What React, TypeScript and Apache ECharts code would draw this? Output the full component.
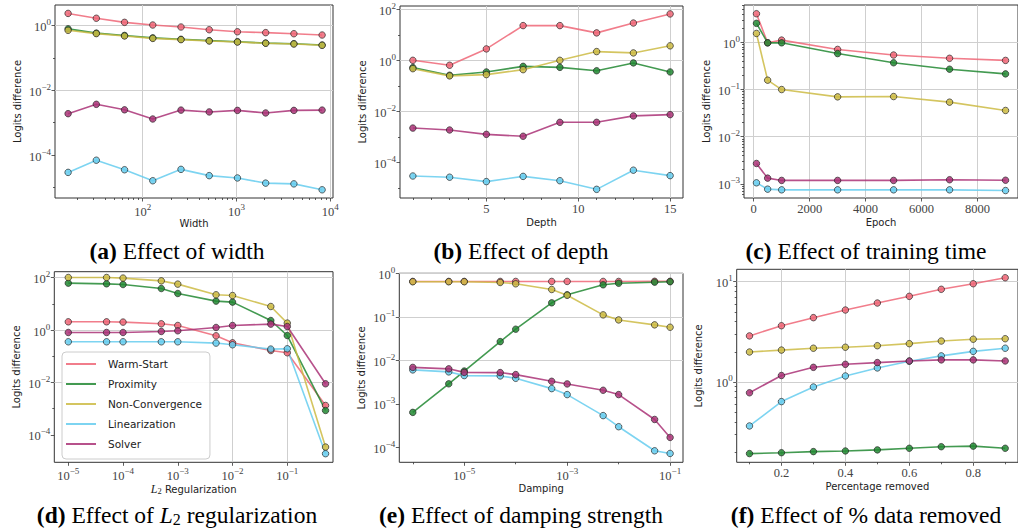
import React, { useEffect, useRef } from 'react';
import * as echarts from 'echarts';

const NAMES = ['Warm-Start', 'Proximity', 'Non-Convergence', 'Linearization', 'Solver'];
const COLORS = ['#EE6677', '#228833', '#CCBB44', '#66CCEE', '#AA3377'];

// (a) Effect of width
const widthX = [16, 32, 64, 128, 256, 512, 1024, 2048, 4096, 8192];
const widthWarm = [2.4, 1.7, 1.27, 1.05, 0.91, 0.75, 0.65, 0.61, 0.565, 0.515];
const widthProx = [0.8, 0.59, 0.5, 0.42, 0.38, 0.345, 0.32, 0.29, 0.277, 0.252];
const widthNonConv = [0.72, 0.57, 0.48, 0.405, 0.37, 0.337, 0.312, 0.287, 0.272, 0.248];
const widthLin = [2.9e-5, 6.9e-5, 3.5e-5, 1.6e-5, 3.6e-5, 2.3e-5, 1.95e-5, 1.35e-5, 1.28e-5, 8.4e-6];
const widthSolver = [1.9e-3, 3.7e-3, 2.5e-3, 1.3e-3, 2.45e-3, 2.15e-3, 2.4e-3, 2.0e-3, 2.4e-3, 2.45e-3];

// (b) Effect of depth
const depthX = [1, 3, 5, 7, 9, 11, 13, 15];
const depthWarm = [1.0, 0.64, 2.8, 23, 23, 11.9, 29, 66];
const depthProx = [0.52, 0.26, 0.35, 0.58, 0.53, 0.39, 0.79, 0.35];
const depthNonConv = [0.47, 0.245, 0.275, 0.43, 1.0, 2.2, 1.95, 3.7];
const depthLin = [2.9e-5, 2.6e-5, 1.75e-5, 2.8e-5, 1.9e-5, 8.7e-6, 4.9e-5, 3.0e-5];
const depthSolver = [2.2e-3, 1.85e-3, 1.25e-3, 1.05e-3, 3.7e-3, 3.7e-3, 6.6e-3, 7.4e-3];

// (c) Effect of training time
const epochX = [100, 500, 1000, 3000, 5000, 7000, 9000];
const epochWarm = [4.06, 0.98, 1.12, 0.71, 0.54, 0.46, 0.415];
const epochProx = [2.54, 0.98, 0.98, 0.58, 0.37, 0.27, 0.215];
const epochNonConv = [1.55, 0.158, 0.1, 0.07, 0.071, 0.054, 0.036];
const epochLin = [1.05e-3, 0.77e-3, 0.745e-3, 0.745e-3, 0.745e-3, 0.745e-3, 0.72e-3];
const epochSolver = [2.7e-3, 1.32e-3, 1.18e-3, 1.18e-3, 1.18e-3, 1.22e-3, 1.19e-3];

// (d) Effect of L2 regularization
const l2X = [1e-5, 5e-5, 1e-4, 5e-4, 1e-3, 5e-3, 1e-2, 5e-2, 1e-1, 5e-1];
const l2Warm = [2.07, 2.07, 2.02, 1.74, 1.5, 0.605, 0.327, 0.166, 0.136, 1.32e-3];
const l2Prox = [62, 58.5, 55, 38.7, 25, 12.8, 11.7, 2.32, 0.62, 8.5e-4];
const l2NonConv = [102, 102, 97, 76, 57, 22.3, 20.9, 7.96, 1.85, 3.4e-5];
const l2Lin = [0.357, 0.357, 0.357, 0.357, 0.357, 0.319, 0.275, 0.188, 0.193, 1.9e-5];
const l2Solver = [0.81, 0.81, 0.81, 0.885, 0.94, 1.26, 1.5, 1.69, 1.37, 8.9e-3];

// (e) Effect of damping strength
const dampX = [1e-6, 5e-6, 1e-5, 5e-5, 1e-4, 5e-4, 1e-3, 5e-3, 1e-2, 5e-2, 1e-1];
const dampWarm = [0.65, 0.65, 0.65, 0.65, 0.65, 0.65, 0.65, 0.65, 0.65, 0.655, 0.655];
const dampProx = [6.4e-4, 2.9e-3, 5.7e-3, 0.027, 0.052, 0.21, 0.32, 0.544, 0.59, 0.624, 0.64];
const dampNonConv = [0.64, 0.64, 0.64, 0.615, 0.574, 0.425, 0.314, 0.111, 0.085, 0.0655, 0.0577];
const dampLin = [6.05e-3, 5.45e-3, 4.48e-3, 4.4e-3, 3.88e-3, 2.25e-3, 1.64e-3, 5.4e-4, 3.0e-4, 8.4e-5, 7.3e-5];
const dampSolver = [6.9e-3, 6.4e-3, 5.3e-3, 5.25e-3, 4.72e-3, 3.31e-3, 2.88e-3, 2.06e-3, 1.64e-3, 4.4e-4, 1.7e-4];

// (f) Effect of % data removed
const removedX = [0.1, 0.2, 0.3, 0.4, 0.5, 0.6, 0.7, 0.8, 0.9];
const removedWarm = [2.88, 3.64, 4.38, 5.22, 6.13, 7.15, 8.4, 9.55, 10.96];
const removedProx = [0.193, 0.197, 0.202, 0.205, 0.21, 0.218, 0.226, 0.229, 0.218];
const removedNonConv = [1.99, 2.08, 2.17, 2.22, 2.3, 2.41, 2.56, 2.67, 2.7];
const removedLin = [0.364, 0.637, 0.891, 1.148, 1.38, 1.61, 1.82, 2.02, 2.17];
const removedSolver = [0.78, 1.16, 1.4, 1.5, 1.56, 1.62, 1.66, 1.66, 1.62];

// tick labels
const widthXTicks = [1e2, 1e3, 1e4];
const widthYTicks = [1, 1e-2, 1e-4];
const depthXTicks = [5, 10, 15];
const depthYTicks = [1e2, 1, 1e-2, 1e-4];
const epochXTicks = [0, 2000, 4000, 6000, 8000];
const epochYTicks = [1, 1e-1, 1e-2, 1e-3];
const l2XTicks = [1e-5, 1e-4, 1e-3, 1e-2, 1e-1];
const l2YTicks = [1e2, 1, 1e-2, 1e-4];
const dampXTicks = [1e-5, 1e-3, 1e-1];
const dampYTicks = [1, 1e-1, 1e-2, 1e-3, 1e-4];
const removedXTicks = [0.2, 0.4, 0.6, 0.8];
const removedYTicks = [10, 1];

const FONT_SERIF = '"Liberation Serif", "DejaVu Serif", serif';
const FONT_SANS = '"DejaVu Sans", "Noto Sans", sans-serif';
const TICK_COLOR = '#444';
const SPINE = '#333';

function logMinors(lo: number, hi: number): number[] {
  const out: number[] = [];
  for (let e = -8; e <= 5; e++) {
    for (let m = 2; m <= 9; m++) {
      const v = m * Math.pow(10, e);
      if (v > lo && v < hi) out.push(v);
    }
  }
  return out;
}

function powLabel(v: number): string {
  const e = Math.round(Math.log10(v));
  const s = e < 0 ? '\u2212' + -e : String(e);
  return '{b|10}{e|' + s + '}';
}

const richPow = {
  b: { fontFamily: FONT_SERIF, fontSize: 12.5, color: TICK_COLOR, verticalAlign: 'bottom', lineHeight: 16 },
  e: { fontFamily: FONT_SERIF, fontSize: 9, color: TICK_COLOR, verticalAlign: 'top', lineHeight: 10 },
};

type Panel = {
  grid: { left: number; top: number; width: number; height: number };
  xType: 'log' | 'value';
  xMin: number; xMax: number; yMin: number; yMax: number;
  x: number[]; ys: number[][];
  xTicks: number[]; xGrid: number[]; xMinor: number[];
  yTicks: number[]; yGrid: number[]; yMinor: number[];
  xFmt?: (v: number) => string;
  xName: string;
  xNameRich?: boolean;
  caption: string; cx: number; cy: number;
};

const panels: Panel[] = [
  {
    grid: { left: 55, top: 5, width: 278, height: 193 },
    xType: 'log', xMin: 11.6, xMax: 10700, yMin: 4.68e-6, yMax: 4.37,
    x: widthX, ys: [widthWarm, widthProx, widthNonConv, widthLin, widthSolver],
    xTicks: widthXTicks, xGrid: widthXTicks, xMinor: logMinors(11.6, 10700),
    yTicks: widthYTicks, yGrid: widthYTicks, yMinor: [1e-1, 1e-3, 1e-5],
    xName: 'Width', caption: '{b|(a)} Effect of width', cx: 177, cy: 251,
  },
  {
    grid: { left: 400, top: 6, width: 283, height: 192 },
    xType: 'value', xMin: 0.3, xMax: 15.7, yMin: 3.98e-6, yMax: 135,
    x: depthX, ys: [depthWarm, depthProx, depthNonConv, depthLin, depthSolver],
    xTicks: depthXTicks, xGrid: depthXTicks, xMinor: [1, 2, 3, 4, 6, 7, 8, 9, 11, 12, 13, 14],
    yTicks: depthYTicks, yGrid: depthYTicks, yMinor: [10, 1e-1, 1e-3, 1e-5],
    xFmt: (v) => String(v),
    xName: 'Depth', caption: '{b|(b)} Effect of depth', cx: 521, cy: 251,
  },
  {
    grid: { left: 744, top: 5, width: 283.5, height: 193 },
    xType: 'value', xMin: -345, xMax: 9445, yMin: 5.0e-4, yMax: 6.22,
    x: epochX, ys: [epochWarm, epochProx, epochNonConv, epochLin, epochSolver],
    xTicks: epochXTicks, xGrid: epochXTicks, xMinor: [],
    yTicks: epochYTicks, yGrid: epochYTicks, yMinor: logMinors(5.0e-4, 6.22),
    xFmt: (v) => String(v),
    xName: 'Epoch', caption: '{b|(c)} Effect of training time', cx: 866, cy: 251,
  },
  {
    grid: { left: 54.3, top: 271.7, width: 278.7, height: 190.6 },
    xType: 'log', xMin: 5.55e-6, xMax: 0.684, yMin: 8.9e-6, yMax: 170,
    x: l2X, ys: [l2Warm, l2Prox, l2NonConv, l2Lin, l2Solver],
    xTicks: l2XTicks, xGrid: l2XTicks, xMinor: [],
    yTicks: l2YTicks, yGrid: l2YTicks, yMinor: [10, 1e-1, 1e-3],
    xName: '{i|L}{s|2} Regularization', xNameRich: true,
    caption: '{b|(d)} Effect of {i|L}{s|2} regularization', cx: 177, cy: 515,
  },
  {
    grid: { left: 399.3, top: 273.3, width: 283.7, height: 189 },
    xType: 'log', xMin: 5.47e-7, xMax: 0.178, yMin: 4.57e-5, yMax: 1.0,
    x: dampX, ys: [dampWarm, dampProx, dampNonConv, dampLin, dampSolver],
    xTicks: dampXTicks, xGrid: dampXTicks, xMinor: [1e-6, 1e-4, 1e-2],
    yTicks: dampYTicks, yGrid: dampYTicks, yMinor: [],
    xName: 'Damping', caption: '{b|(e)} Effect of damping strength', cx: 521, cy: 515,
  },
  {
    grid: { left: 736.7, top: 269.3, width: 291, height: 193 },
    xType: 'value', xMin: 0.06, xMax: 0.94, yMin: 0.158, yMax: 13.3,
    x: removedX, ys: [removedWarm, removedProx, removedNonConv, removedLin, removedSolver],
    xTicks: removedXTicks, xGrid: removedXTicks, xMinor: [0.1, 0.3, 0.5, 0.7, 0.9],
    yTicks: removedYTicks, yGrid: removedYTicks, yMinor: logMinors(0.158, 13.3),
    xFmt: (v) => v.toFixed(1),
    xName: 'Percentage removed', caption: '{b|(f)} Effect of % data removed', cx: 866, cy: 515,
  },
];

function buildOption() {
  const grid: any[] = [];
  const xAxis: any[] = [];
  const yAxis: any[] = [];
  const series: any[] = [];
  const tickLine = { color: SPINE, width: 0.8 };
  const nameStyle = { fontFamily: FONT_SANS, fontSize: 10, color: '#222' };
  const hiddenLine = { show: false, onZero: false };

  panels.forEach((p, i) => {
    grid.push({
      ...p.grid, show: true, borderColor: SPINE, borderWidth: 1,
      backgroundColor: 'transparent', containLabel: false,
    });
    xAxis.push({
      type: p.xType, gridIndex: i, position: 'bottom', min: p.xMin, max: p.xMax, logBase: 10,
      axisLine: hiddenLine,
      axisTick: { show: true, customValues: p.xTicks, length: 3.5, lineStyle: tickLine },
      axisLabel: {
        show: true, customValues: p.xTicks, margin: 4,
        formatter: p.xType === 'log' ? powLabel : p.xFmt,
        rich: richPow, color: TICK_COLOR, fontFamily: FONT_SERIF, fontSize: 12.5,
      },
      splitLine: { show: false },
      name: p.xName, nameLocation: 'middle', nameGap: 19,
      nameTextStyle: p.xNameRich
        ? {
            ...nameStyle,
            rich: {
              i: { fontFamily: FONT_SERIF, fontStyle: 'italic', fontSize: 12, color: '#222' },
              s: { fontFamily: FONT_SERIF, fontSize: 8.5, color: '#222', verticalAlign: 'bottom' },
            },
          }
        : nameStyle,
    });
    xAxis.push({
      type: p.xType, gridIndex: i, position: 'bottom', min: p.xMin, max: p.xMax, logBase: 10,
      axisLine: hiddenLine, axisLabel: { show: false }, splitLine: { show: false },
      axisTick: { show: p.xMinor.length > 0, customValues: p.xMinor.length ? p.xMinor : undefined, length: 2, lineStyle: tickLine },
    });
    yAxis.push({
      type: 'log', gridIndex: i, position: 'left', min: p.yMin, max: p.yMax, logBase: 10,
      axisLine: hiddenLine,
      axisTick: { show: true, customValues: p.yTicks, length: 3.5, lineStyle: tickLine },
      axisLabel: {
        show: true, customValues: p.yTicks, margin: 4, formatter: powLabel,
        rich: richPow, color: TICK_COLOR, fontFamily: FONT_SERIF, fontSize: 12.5,
      },
      splitLine: { show: false },
      name: 'Logits difference', nameLocation: 'middle', nameGap: 33,
      nameTextStyle: nameStyle,
    });
    yAxis.push({
      type: 'log', gridIndex: i, position: 'left', min: p.yMin, max: p.yMax, logBase: 10,
      axisLine: hiddenLine, axisLabel: { show: false }, splitLine: { show: false },
      axisTick: { show: p.yMinor.length > 0, customValues: p.yMinor.length ? p.yMinor : undefined, length: 2, lineStyle: tickLine },
    });

    p.ys.forEach((vals, k) => {
      const s: any = {
        type: 'line', name: NAMES[k], xAxisIndex: 2 * i, yAxisIndex: 2 * i,
        data: p.x.map((xv, j) => [xv, vals[j]]),
        symbol: 'circle', symbolSize: 6.5, showSymbol: true,
        lineStyle: { color: COLORS[k], width: 1.6, opacity: 0.85 },
        itemStyle: { color: COLORS[k], borderColor: '#222', borderWidth: 0.8, opacity: 0.85 },
        emphasis: { disabled: true }, silent: true, z: 3,
      };
      if (k === 0) {
        s.markLine = {
          silent: true, symbol: ['none', 'none'], label: { show: false },
          lineStyle: { color: '#cfcfcf', width: 1, type: 'solid', opacity: 1 },
          emphasis: { disabled: true }, animation: false, z: 1,
          data: [
            ...p.xGrid.map((v) => ({ xAxis: v })),
            ...p.yGrid.map((v) => ({ yAxis: v })),
          ],
        };
      }
      series.push(s);
    });
  });

  const CAP = 23.5;
  const captionRich = {
    b: { fontFamily: FONT_SERIF, fontSize: CAP, fontWeight: 'bold', fill: '#000' },
    i: { fontFamily: FONT_SERIF, fontSize: CAP, fontStyle: 'italic', fill: '#000' },
    s: { fontFamily: FONT_SERIF, fontSize: 16, fill: '#000', verticalAlign: 'bottom', lineHeight: 16 },
  };

  const graphic = panels.map((p) => ({
    type: 'text', x: p.cx, y: p.cy, silent: true, z: 20,
    style: {
      text: p.caption, rich: captionRich, fontFamily: FONT_SERIF, fontSize: CAP, fill: '#000',
      align: 'center', verticalAlign: 'middle', textAlign: 'center', textVerticalAlign: 'middle',
    },
  }));

  return {
    animation: false,
    backgroundColor: '#ffffff',
    grid, xAxis, yAxis, series, graphic,
    legend: {
      data: NAMES, orient: 'vertical', left: 62, top: 352,
      icon: 'rect', itemWidth: 30, itemHeight: 2, itemGap: 6,
      itemStyle: { borderWidth: 0, opacity: 0.85 },
      textStyle: { fontFamily: FONT_SANS, fontSize: 10.5, color: '#222', lineHeight: 14, padding: [0, 0, 0, 7] },
      backgroundColor: 'rgba(255,255,255,0.85)', borderColor: '#cccccc', borderWidth: 1, borderRadius: 4,
      padding: [5, 8, 8, 4], selectedMode: false, z: 10,
    },
  };
}

export default function App() {
  const ref = useRef<HTMLDivElement>(null);
  useEffect(() => {
    document.body.style.margin = '0';
    if (!ref.current) return;
    const chart = echarts.init(ref.current, undefined, { renderer: 'svg' });
    chart.setOption(buildOption() as any);
    return () => chart.dispose();
  }, []);
  return <div ref={ref} style={{ width: 1018, height: 529 }} />;
}
